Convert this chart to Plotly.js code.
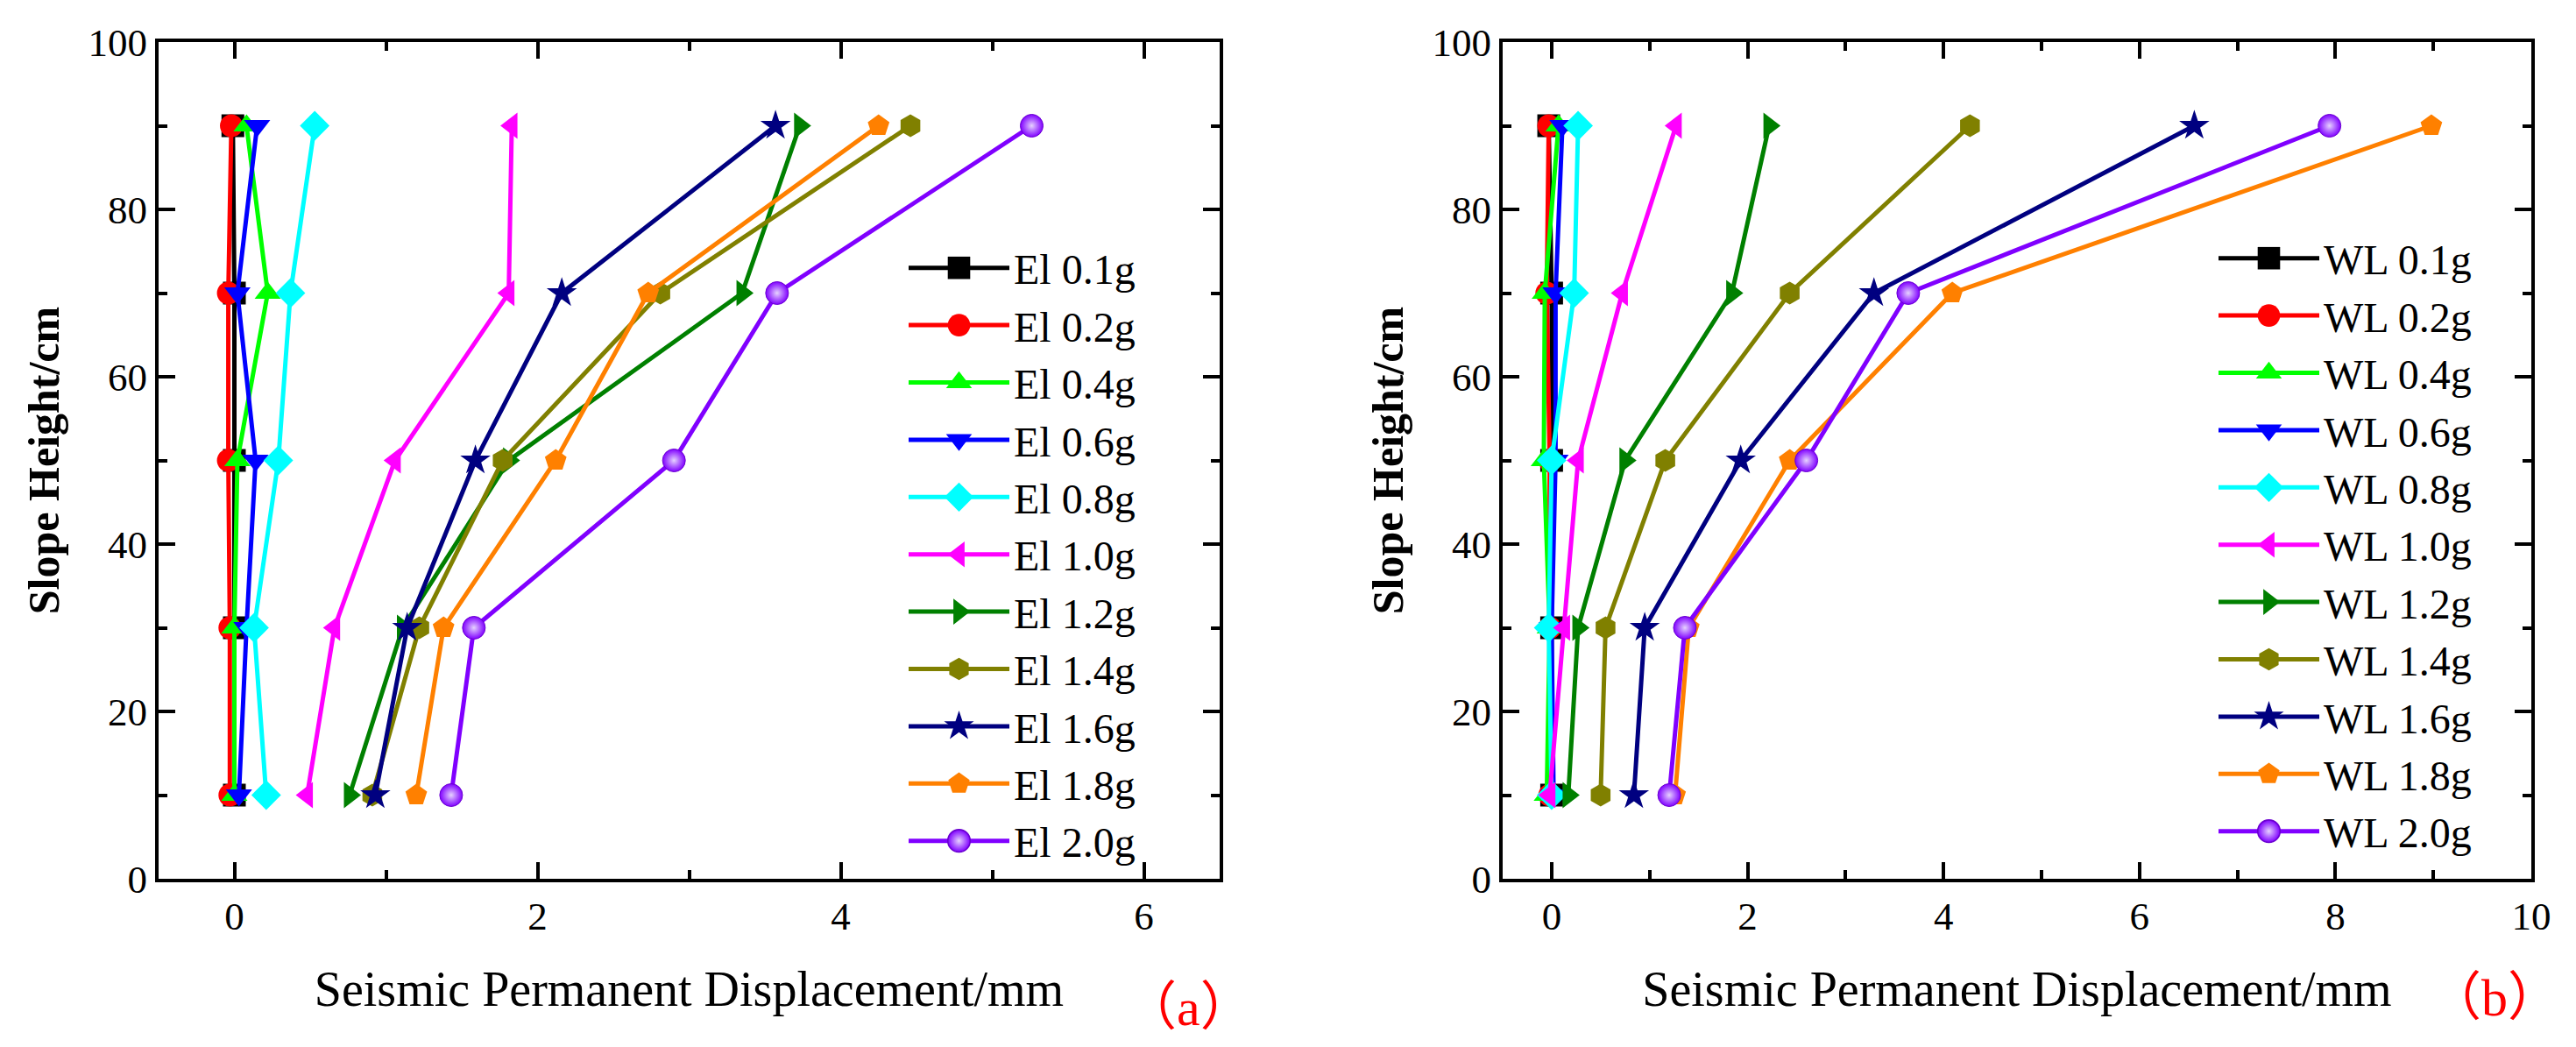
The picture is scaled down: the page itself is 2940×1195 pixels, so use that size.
<!DOCTYPE html>
<html>
<head>
<meta charset="utf-8">
<script src="https://cdn.plot.ly/plotly-3.0.1.min.js"></script>
<style>
  body { margin: 0; background: #fff; }
  #chart { width: 2940px; height: 1195px; }
</style>
</head>
<body>
<div id="chart"></div>
<script>
// slope heights where displacement was measured (cm)
const heights = [10, 30, 50, 70, 90];

const levels = ['0.1g', '0.2g', '0.4g', '0.6g', '0.8g', '1.0g', '1.2g', '1.4g', '1.6g', '1.8g', '2.0g'];

// permanent displacement (mm), El Centro wave, bottom -> top
const elDisp = [
  [0.00, 0.00, 0.00, 0.00, -0.01],
  [-0.03, -0.03, -0.04, -0.04, -0.02],
  [0.00, 0.00, 0.02, 0.22, 0.08],
  [0.03, 0.08, 0.14, 0.02, 0.15],
  [0.21, 0.13, 0.29, 0.37, 0.53],
  [0.48, 0.66, 1.06, 1.81, 1.83],
  [0.76, 1.11, 1.81, 3.35, 3.73],
  [0.91, 1.22, 1.77, 2.81, 4.46],
  [0.93, 1.14, 1.59, 2.16, 3.57],
  [1.20, 1.38, 2.12, 2.73, 4.25],
  [1.43, 1.58, 2.90, 3.58, 5.26]
];

// permanent displacement (mm), Wenchuan (WL) wave, bottom -> top
const wlDisp = [
  [0.00, 0.00, 0.00, 0.00, -0.03],
  [-0.02, -0.02, -0.02, -0.05, -0.03],
  [-0.05, -0.02, -0.08, -0.07, 0.07],
  [0.02, 0.00, 0.04, 0.04, 0.11],
  [0.00, -0.03, 0.00, 0.23, 0.27],
  [-0.02, 0.13, 0.27, 0.72, 1.27],
  [0.17, 0.27, 0.75, 1.84, 2.22],
  [0.50, 0.55, 1.16, 2.43, 4.27],
  [0.84, 0.95, 1.93, 3.29, 6.56],
  [1.26, 1.40, 2.43, 4.09, 8.98],
  [1.20, 1.36, 2.60, 3.64, 7.94]
];

const panelLabels = ['a', 'b'];

const colors = ['#000000', '#FF0000', '#00FF00', '#0000FF', '#00FFFF', '#FF00FF',
                '#008000', '#808000', '#000080', '#FF8000', '#8000FF'];
const symbols = ['square', 'circle', 'triangle-up', 'triangle-down', 'diamond', 'triangle-left',
                 'triangle-right', 'hexagon', 'star', 'pentagon', 'circle'];

const serif = 'Liberation Serif';

function makeTraces (disp, prefix, xa, ya, legend) {
  return disp.map((vals, i) => {
    const marker = { size: 26, color: colors[i], symbol: symbols[i], line: { width: 0 } };
    if (i === levels.length - 1) {
      // ball-like marker for the last series
      marker.gradient = { type: 'radial', color: '#e6d2ff' };
      marker.line = { width: 1, color: '#6a00d0' };
    }
    return {
      type: 'scatter',
      mode: 'lines+markers',
      x: vals,
      y: heights,
      xaxis: xa,
      yaxis: ya,
      legend: legend,
      name: prefix + ' ' + levels[i],
      line: { color: colors[i], width: 5 },
      marker: marker
    };
  });
}

// full-width brackets round the panel letter, like the original
function panelText (letter) {
  const cjk = '<span style="font-family:Noto Sans CJK SC">';
  return cjk + '（</span>' + letter + cjk + '）</span>';
}

const data = makeTraces(elDisp, 'El', 'x', 'y', 'legend')
  .concat(makeTraces(wlDisp, 'WL', 'x2', 'y2', 'legend2'));

const W = 2940, H = 1195;
const plotTop = 1 - 48 / H, plotBottom = 1 - 1003 / H;

const axisBase = {
  showline: true,
  linecolor: '#000',
  linewidth: 4,
  mirror: 'ticks',
  ticks: 'inside',
  ticklen: 19,
  tickwidth: 4,
  tickcolor: '#000',
  showgrid: false,
  zeroline: false,
  automargin: false,
  tickfont: { family: serif, size: 45, color: '#000' }
};

const minorTicks = { ticks: 'inside', ticklen: 10, tickwidth: 4, tickcolor: '#000' };

const xTitle = {
  text: 'Seismic Permanent Displacement/mm',
  font: { family: serif, size: 56, color: '#000' },
  standoff: 40
};
const yTitle = {
  text: '<b>Slope Height/cm</b>',
  font: { family: serif, size: 50, color: '#000' },
  standoff: 18
};

const legendBase = {
  font: { family: serif, size: 48, color: '#000' },
  bgcolor: 'rgba(0,0,0,0)',
  borderwidth: 0,
  itemwidth: 115,
  xanchor: 'left',
  yanchor: 'top',
  tracegroupgap: 0
};

const labelFont = { family: serif, size: 60, color: '#FF0000' };

const layout = {
  width: W,
  height: H,
  margin: { l: 0, r: 0, t: 0, b: 0 },
  paper_bgcolor: '#fff',
  plot_bgcolor: '#fff',
  showlegend: true,
  xaxis: Object.assign({}, axisBase, {
    domain: [181 / W, 1392 / W],
    range: [-0.5, 6.5],
    dtick: 2,
    minor: Object.assign({ dtick: 1 }, minorTicks),
    title: xTitle,
    anchor: 'y'
  }),
  yaxis: Object.assign({}, axisBase, {
    domain: [plotBottom, plotTop],
    range: [0, 100],
    dtick: 20,
    minor: Object.assign({ dtick: 10 }, minorTicks),
    title: yTitle,
    anchor: 'x'
  }),
  xaxis2: Object.assign({}, axisBase, {
    domain: [1715 / W, 2889 / W],
    range: [-0.5, 10],
    dtick: 2,
    minor: Object.assign({ dtick: 1 }, minorTicks),
    title: xTitle,
    anchor: 'y2'
  }),
  yaxis2: Object.assign({}, axisBase, {
    domain: [plotBottom, plotTop],
    range: [0, 100],
    dtick: 20,
    minor: Object.assign({ dtick: 10 }, minorTicks),
    title: yTitle,
    anchor: 'x2'
  }),
  legend: Object.assign({}, legendBase, { x: 1032 / W, y: 1 - 268 / H }),
  legend2: Object.assign({}, legendBase, { x: 2527 / W, y: 1 - 257 / H }),
  annotations: [
    {
      text: panelText(panelLabels[0]), xref: 'paper', yref: 'paper', x: 1432 / W, y: 1 - 1143 / H,
      xanchor: 'right', yanchor: 'middle', showarrow: false, font: labelFont
    },
    {
      text: panelText(panelLabels[1]), xref: 'paper', yref: 'paper', x: 2924 / W, y: 1 - 1132 / H,
      xanchor: 'right', yanchor: 'middle', showarrow: false, font: labelFont
    }
  ]
};

Plotly.newPlot('chart', data, layout, { displayModeBar: false, staticPlot: true }).then((gd) => {
  // legend symbols are capped at 16px by plotly, scale them up to match the plot markers
  gd.querySelectorAll('.legendpoints path.scatterpts').forEach((p) => {
    const t = p.getAttribute('transform') || '';
    p.setAttribute('transform', t + ' scale(1.6)');
  });
});
</script>
</body>
</html>
